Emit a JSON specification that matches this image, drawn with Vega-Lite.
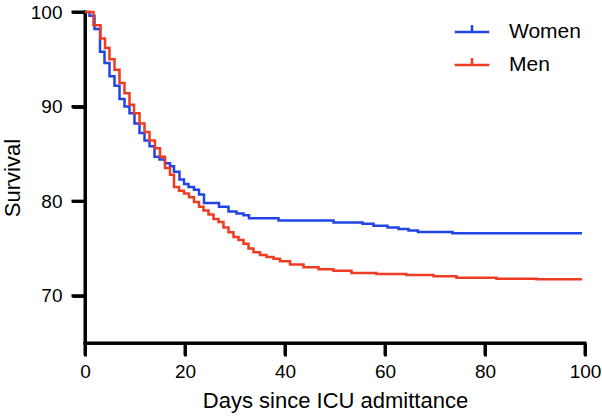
{
  "$schema": "https://vega.github.io/schema/vega-lite/v6.json",
  "width": 500,
  "height": 331,
  "autosize": "none",
  "padding": {"left": 85, "top": 12, "right": 17, "bottom": 75},
  "background": "white",
  "view": {"stroke": null},
  "datasets": {
    "km": [
      {"sex": "Women", "day": 0, "s": 100},
      {"sex": "Women", "day": 0.9, "s": 99.6},
      {"sex": "Women", "day": 1.9, "s": 98.2},
      {"sex": "Women", "day": 3, "s": 95.8},
      {"sex": "Women", "day": 3.9, "s": 94.6},
      {"sex": "Women", "day": 4.9, "s": 93.2},
      {"sex": "Women", "day": 5.9, "s": 92.2},
      {"sex": "Women", "day": 6.9, "s": 90.8},
      {"sex": "Women", "day": 7.9, "s": 90.0},
      {"sex": "Women", "day": 8.9, "s": 89.3},
      {"sex": "Women", "day": 9.9, "s": 88.2},
      {"sex": "Women", "day": 10.9, "s": 87.2},
      {"sex": "Women", "day": 11.9, "s": 86.4},
      {"sex": "Women", "day": 12.9, "s": 85.8},
      {"sex": "Women", "day": 13.9, "s": 84.7},
      {"sex": "Women", "day": 14.9, "s": 84.4},
      {"sex": "Women", "day": 16, "s": 84.0},
      {"sex": "Women", "day": 17, "s": 83.7},
      {"sex": "Women", "day": 17.8, "s": 83.1},
      {"sex": "Women", "day": 18.9, "s": 82.3},
      {"sex": "Women", "day": 19.8, "s": 81.8},
      {"sex": "Women", "day": 20.7, "s": 81.5},
      {"sex": "Women", "day": 21.8, "s": 81.2},
      {"sex": "Women", "day": 22.8, "s": 80.7},
      {"sex": "Women", "day": 23.8, "s": 79.8},
      {"sex": "Women", "day": 26.8, "s": 79.4},
      {"sex": "Women", "day": 28.7, "s": 78.9},
      {"sex": "Women", "day": 30.3, "s": 78.7},
      {"sex": "Women", "day": 31.7, "s": 78.5},
      {"sex": "Women", "day": 32.8, "s": 78.2},
      {"sex": "Women", "day": 38.7, "s": 77.95},
      {"sex": "Women", "day": 49.7, "s": 77.75},
      {"sex": "Women", "day": 55.5, "s": 77.6},
      {"sex": "Women", "day": 57.7, "s": 77.4},
      {"sex": "Women", "day": 60.5, "s": 77.2},
      {"sex": "Women", "day": 62.7, "s": 77.05},
      {"sex": "Women", "day": 64.7, "s": 76.9},
      {"sex": "Women", "day": 66.6, "s": 76.75},
      {"sex": "Women", "day": 73.5, "s": 76.6},
      {"sex": "Women", "day": 99.4, "s": 76.6},
      {"sex": "Men", "day": 0, "s": 100},
      {"sex": "Men", "day": 1.7, "s": 98.6},
      {"sex": "Men", "day": 3.1, "s": 97.2},
      {"sex": "Men", "day": 4, "s": 96.2},
      {"sex": "Men", "day": 4.9, "s": 95.0},
      {"sex": "Men", "day": 5.9, "s": 93.9},
      {"sex": "Men", "day": 6.9, "s": 92.5},
      {"sex": "Men", "day": 7.9, "s": 91.4},
      {"sex": "Men", "day": 8.9, "s": 90.2},
      {"sex": "Men", "day": 9.8, "s": 89.3},
      {"sex": "Men", "day": 10.9, "s": 88.2},
      {"sex": "Men", "day": 11.9, "s": 87.3},
      {"sex": "Men", "day": 12.9, "s": 86.4},
      {"sex": "Men", "day": 14, "s": 85.6},
      {"sex": "Men", "day": 15, "s": 84.7},
      {"sex": "Men", "day": 16, "s": 83.5},
      {"sex": "Men", "day": 17, "s": 82.8},
      {"sex": "Men", "day": 17.8, "s": 81.5},
      {"sex": "Men", "day": 18.8, "s": 81.1},
      {"sex": "Men", "day": 19.8, "s": 80.8},
      {"sex": "Men", "day": 20.8, "s": 80.4},
      {"sex": "Men", "day": 21.8, "s": 79.9},
      {"sex": "Men", "day": 22.8, "s": 79.4},
      {"sex": "Men", "day": 23.7, "s": 79.0},
      {"sex": "Men", "day": 24.7, "s": 78.6},
      {"sex": "Men", "day": 25.7, "s": 78.1},
      {"sex": "Men", "day": 26.7, "s": 77.8},
      {"sex": "Men", "day": 27.7, "s": 77.2},
      {"sex": "Men", "day": 28.7, "s": 76.7},
      {"sex": "Men", "day": 29.7, "s": 76.2},
      {"sex": "Men", "day": 30.7, "s": 75.9},
      {"sex": "Men", "day": 31.7, "s": 75.5},
      {"sex": "Men", "day": 32.7, "s": 75.0},
      {"sex": "Men", "day": 33.7, "s": 74.6},
      {"sex": "Men", "day": 35, "s": 74.3},
      {"sex": "Men", "day": 36.3, "s": 74.1},
      {"sex": "Men", "day": 37.7, "s": 73.9},
      {"sex": "Men", "day": 39, "s": 73.65},
      {"sex": "Men", "day": 41, "s": 73.3},
      {"sex": "Men", "day": 43.7, "s": 73.0},
      {"sex": "Men", "day": 46.7, "s": 72.8},
      {"sex": "Men", "day": 49.7, "s": 72.65},
      {"sex": "Men", "day": 53.3, "s": 72.4},
      {"sex": "Men", "day": 58.3, "s": 72.3},
      {"sex": "Men", "day": 64.3, "s": 72.2},
      {"sex": "Men", "day": 69.7, "s": 72.05},
      {"sex": "Men", "day": 74.3, "s": 71.9},
      {"sex": "Men", "day": 82.3, "s": 71.8},
      {"sex": "Men", "day": 90.3, "s": 71.75},
      {"sex": "Men", "day": 99.4, "s": 71.75}
    ],
    "yticks": [{"v": 70}, {"v": 80}, {"v": 90}, {"v": 100}],
    "xticks": [{"v": 0}, {"v": 20}, {"v": 40}, {"v": 60}, {"v": 80}, {"v": 100}]
  },
  "layer": [
    {
      "data": {"name": "yticks"},
      "mark": {"type": "rule", "color": "black", "strokeWidth": 3},
      "encoding": {
        "y": {"field": "v", "type": "quantitative", "title": "Survival", "scale": {"domain": [65, 100], "nice": false, "zero": false},
          "axis": {"title": "Survival", "values": [70, 80, 90, 100], "gridOpacity": 0, "domainColor": "#111111", "domainWidth": 3, "tickColor": "#111111", "tickWidth": 3, "tickSize": 13, "labelColor": "black", "labelFontSize": 19, "labelFont": "Liberation Sans", "labelPadding": 10, "labelFlush": false, "titleFont": "Liberation Sans", "titleFontSize": 22, "titleFontWeight": "normal", "titleColor": "black", "titlePadding": 6}},
        "x": {"datum": -2.7, "type": "quantitative", "title": "Days since ICU admittance", "scale": {"domain": [0, 100], "nice": false, "zero": false},
          "axis": {"title": "Days since ICU admittance", "values": [0, 20, 40, 60, 80, 100], "gridOpacity": 0, "domainColor": "#111111", "domainWidth": 3, "tickColor": "#111111", "tickWidth": 3, "tickSize": 13, "labelColor": "black", "labelFontSize": 19, "labelFont": "Liberation Sans", "labelPadding": 6, "labelFlush": false, "titleFont": "Liberation Sans", "titleFontSize": 22, "titleFontWeight": "normal", "titleColor": "black", "titlePadding": 9}},
        "x2": {"datum": 0}
      }
    },
    {
      "data": {"name": "xticks"},
      "mark": {"type": "rule", "color": "black", "strokeWidth": 3},
      "encoding": {
        "x": {"field": "v", "type": "quantitative", "title": "Days since ICU admittance", "scale": {"domain": [0, 100], "nice": false, "zero": false},
          "axis": {"title": "Days since ICU admittance", "values": [0, 20, 40, 60, 80, 100], "gridOpacity": 0, "domainColor": "#111111", "domainWidth": 3, "tickColor": "#111111", "tickWidth": 3, "tickSize": 13, "labelColor": "black", "labelFontSize": 19, "labelFont": "Liberation Sans", "labelPadding": 6, "labelFlush": false, "titleFont": "Liberation Sans", "titleFontSize": 22, "titleFontWeight": "normal", "titleColor": "black", "titlePadding": 9}},
        "y": {"datum": 63.7, "type": "quantitative", "title": "Survival", "scale": {"domain": [65, 100], "nice": false, "zero": false},
          "axis": {"title": "Survival", "values": [70, 80, 90, 100], "gridOpacity": 0, "domainColor": "#111111", "domainWidth": 3, "tickColor": "#111111", "tickWidth": 3, "tickSize": 13, "labelColor": "black", "labelFontSize": 19, "labelFont": "Liberation Sans", "labelPadding": 10, "labelFlush": false, "titleFont": "Liberation Sans", "titleFontSize": 22, "titleFontWeight": "normal", "titleColor": "black", "titlePadding": 6}},
        "y2": {"datum": 65}
      }
    },
    {
      "data": {"values": [{"a": 0}]},
      "mark": {"type": "rule", "color": "black", "strokeWidth": 3, "strokeCap": "square"},
      "encoding": {
        "x": {"datum": 0, "type": "quantitative", "title": "Days since ICU admittance", "scale": {"domain": [0, 100], "nice": false, "zero": false},
          "axis": {"title": "Days since ICU admittance", "values": [0, 20, 40, 60, 80, 100], "gridOpacity": 0, "domainColor": "#111111", "domainWidth": 3, "tickColor": "#111111", "tickWidth": 3, "tickSize": 13, "labelColor": "black", "labelFontSize": 19, "labelFont": "Liberation Sans", "labelPadding": 6, "labelFlush": false, "titleFont": "Liberation Sans", "titleFontSize": 22, "titleFontWeight": "normal", "titleColor": "black", "titlePadding": 9}},
        "y": {"datum": 65, "type": "quantitative", "title": "Survival", "scale": {"domain": [65, 100], "nice": false, "zero": false},
          "axis": {"title": "Survival", "values": [70, 80, 90, 100], "gridOpacity": 0, "domainColor": "#111111", "domainWidth": 3, "tickColor": "#111111", "tickWidth": 3, "tickSize": 13, "labelColor": "black", "labelFontSize": 19, "labelFont": "Liberation Sans", "labelPadding": 10, "labelFlush": false, "titleFont": "Liberation Sans", "titleFontSize": 22, "titleFontWeight": "normal", "titleColor": "black", "titlePadding": 6}},
        "y2": {"datum": 100}
      }
    },
    {
      "data": {"values": [{"a": 0}]},
      "mark": {"type": "rule", "color": "black", "strokeWidth": 3, "strokeCap": "square"},
      "encoding": {
        "y": {"datum": 65, "type": "quantitative", "title": "Survival", "scale": {"domain": [65, 100], "nice": false, "zero": false},
          "axis": {"title": "Survival", "values": [70, 80, 90, 100], "gridOpacity": 0, "domainColor": "#111111", "domainWidth": 3, "tickColor": "#111111", "tickWidth": 3, "tickSize": 13, "labelColor": "black", "labelFontSize": 19, "labelFont": "Liberation Sans", "labelPadding": 10, "labelFlush": false, "titleFont": "Liberation Sans", "titleFontSize": 22, "titleFontWeight": "normal", "titleColor": "black", "titlePadding": 6}},
        "x": {"datum": 0, "type": "quantitative", "title": "Days since ICU admittance", "scale": {"domain": [0, 100], "nice": false, "zero": false},
          "axis": {"title": "Days since ICU admittance", "values": [0, 20, 40, 60, 80, 100], "gridOpacity": 0, "domainColor": "#111111", "domainWidth": 3, "tickColor": "#111111", "tickWidth": 3, "tickSize": 13, "labelColor": "black", "labelFontSize": 19, "labelFont": "Liberation Sans", "labelPadding": 6, "labelFlush": false, "titleFont": "Liberation Sans", "titleFontSize": 22, "titleFontWeight": "normal", "titleColor": "black", "titlePadding": 9}},
        "x2": {"datum": 100}
      }
    },
    {
      "data": {"name": "km"},
      "mark": {"type": "line", "interpolate": "step-after", "strokeWidth": 2.5},
      "encoding": {
        "x": {"field": "day", "type": "quantitative", "title": "Days since ICU admittance",
          "scale": {"domain": [0, 100], "nice": false, "zero": false},
          "axis": {"title": "Days since ICU admittance", "values": [0, 20, 40, 60, 80, 100], "gridOpacity": 0, "domainColor": "#111111", "domainWidth": 3, "tickColor": "#111111", "tickWidth": 3, "tickSize": 13, "labelColor": "black", "labelFontSize": 19, "labelFont": "Liberation Sans", "labelPadding": 6, "labelFlush": false, "titleFont": "Liberation Sans", "titleFontSize": 22, "titleFontWeight": "normal", "titleColor": "black", "titlePadding": 9}},
        "y": {"field": "s", "type": "quantitative", "title": "Survival",
          "scale": {"domain": [65, 100], "nice": false, "zero": false},
          "axis": {"title": "Survival", "values": [70, 80, 90, 100], "gridOpacity": 0, "domainColor": "#111111", "domainWidth": 3, "tickColor": "#111111", "tickWidth": 3, "tickSize": 13, "labelColor": "black", "labelFontSize": 19, "labelFont": "Liberation Sans", "labelPadding": 10, "labelFlush": false, "titleFont": "Liberation Sans", "titleFontSize": 22, "titleFontWeight": "normal", "titleColor": "black", "titlePadding": 6}},
        "color": {"field": "sex", "type": "nominal", "title": null,
          "scale": {"domain": ["Women", "Men"], "range": ["#2144e6", "#ef3b22"]},
          "legend": {"orient": "none", "legendX": 368, "legendY": 1, "symbolType": "M-1,0H1M0,0V-0.4", "symbolSize": 1200, "symbolStrokeWidth": 2.5, "symbolFillColor": "transparent", "labelFontSize": 21, "labelFont": "Liberation Sans", "labelColor": "black", "labelOffset": 18, "rowPadding": 4}
        }
      }
    }
  ]
}
